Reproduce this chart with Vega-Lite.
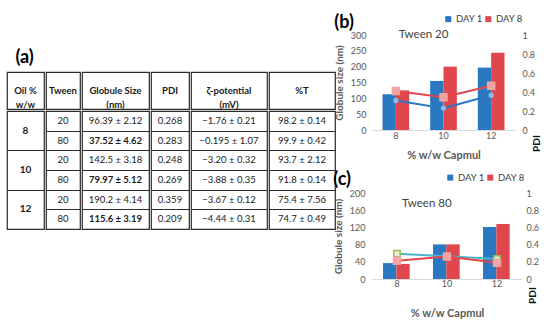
{
  "$schema": "https://vega.github.io/schema/vega-lite/v6.json",
  "padding": {"left": 6, "top": 14, "right": 2, "bottom": 2},
  "background": "white",
  "datasets": {
    "headers": [
      {"col": "oil", "h": "Oil %\nw/w"},
      {"col": "tween", "h": "Tween"},
      {"col": "size", "h": "Globule Size\n(nm)"},
      {"col": "pdi", "h": "PDI"},
      {"col": "zeta", "h": "ζ-potential\n(mV)"},
      {"col": "t", "h": "%T"}
    ],
    "table": [
      {"id": "8-20", "oil": "8", "tween": "20", "size": "96.39 ± 2.12", "pdi": "0.268", "zeta": "−1.76 ± 0.21", "t": "98.2 ± 0.14"},
      {"id": "8-80", "oil": "8", "tween": "80", "size": "37.52 ± 4.62", "pdi": "0.283", "zeta": "−0.195 ± 1.07", "t": "99.9 ± 0.42"},
      {"id": "10-20", "oil": "10", "tween": "20", "size": "142.5 ± 3.18", "pdi": "0.248", "zeta": "−3.20 ± 0.32", "t": "93.7 ± 2.12"},
      {"id": "10-80", "oil": "10", "tween": "80", "size": "79.97 ± 5.12", "pdi": "0.269", "zeta": "−3.88 ± 0.35", "t": "91.8 ± 0.14"},
      {"id": "12-20", "oil": "12", "tween": "20", "size": "190.2 ± 4.14", "pdi": "0.359", "zeta": "−3.67 ± 0.12", "t": "75.4 ± 7.56"},
      {"id": "12-80", "oil": "12", "tween": "80", "size": "115.6 ± 3.19", "pdi": "0.209", "zeta": "−4.44 ± 0.31", "t": "74.7 ± 0.49"}
    ],
    "chart": [
      {"tween": "Tween 20", "capmul": 8, "day": "DAY 1", "size": 113, "pdi": 0.31},
      {"tween": "Tween 20", "capmul": 8, "day": "DAY 8", "size": 125, "pdi": 0.41},
      {"tween": "Tween 20", "capmul": 10, "day": "DAY 1", "size": 155, "pdi": 0.23},
      {"tween": "Tween 20", "capmul": 10, "day": "DAY 8", "size": 200, "pdi": 0.345},
      {"tween": "Tween 20", "capmul": 12, "day": "DAY 1", "size": 197, "pdi": 0.365},
      {"tween": "Tween 20", "capmul": 12, "day": "DAY 8", "size": 244, "pdi": 0.465},
      {"tween": "Tween 80", "capmul": 8, "day": "DAY 1", "size": 37, "pdi": 0.295},
      {"tween": "Tween 80", "capmul": 8, "day": "DAY 8", "size": 35, "pdi": 0.213},
      {"tween": "Tween 80", "capmul": 10, "day": "DAY 1", "size": 80.5, "pdi": 0.264},
      {"tween": "Tween 80", "capmul": 10, "day": "DAY 8", "size": 80.5, "pdi": 0.262},
      {"tween": "Tween 80", "capmul": 12, "day": "DAY 1", "size": 121, "pdi": 0.233},
      {"tween": "Tween 80", "capmul": 12, "day": "DAY 8", "size": 128, "pdi": 0.19}
    ]
  },
  "spacing": -3,
  "hconcat": [
    {
      "spacing": 0,
      "vconcat": [
        {"width": 318, "height": 14, "data": {"values": []}, "mark": "text", "encoding": {}},
        {
          "title": {"text": "(a)", "anchor": "start", "fontSize": 18, "fontWeight": "bold", "color": "#000", "dx": 9, "offset": 4},
          "spacing": 0,
          "hconcat": [
            {"width": 37, "height": 37, "data": {"name": "headers"}, "transform": [{"filter": "datum.col == 'oil'"}], "view": {"stroke": "#2b2b2b", "strokeWidth": 1.2}, "mark": {"type": "text", "fontWeight": "bold", "lineBreak": "\n", "lineHeight": 14, "fontSize": 9.5, "color": "#1a1a1a"}, "encoding": {"text": {"field": "h"}}},
            {"width": 34, "height": 37, "data": {"name": "headers"}, "transform": [{"filter": "datum.col == 'tween'"}], "view": {"stroke": "#2b2b2b", "strokeWidth": 1.2}, "mark": {"type": "text", "fontWeight": "bold", "lineBreak": "\n", "lineHeight": 14, "fontSize": 9.5, "color": "#1a1a1a"}, "encoding": {"text": {"field": "h"}}},
            {"width": 67, "height": 37, "data": {"name": "headers"}, "transform": [{"filter": "datum.col == 'size'"}], "view": {"stroke": "#2b2b2b", "strokeWidth": 1.2}, "mark": {"type": "text", "fontWeight": "bold", "lineBreak": "\n", "lineHeight": 14, "fontSize": 9.5, "color": "#1a1a1a"}, "encoding": {"text": {"field": "h"}}},
            {"width": 38, "height": 37, "data": {"name": "headers"}, "transform": [{"filter": "datum.col == 'pdi'"}], "view": {"stroke": "#2b2b2b", "strokeWidth": 1.2}, "mark": {"type": "text", "fontWeight": "bold", "lineBreak": "\n", "lineHeight": 14, "fontSize": 9.5, "color": "#1a1a1a"}, "encoding": {"text": {"field": "h"}}},
            {"width": 76, "height": 37, "data": {"name": "headers"}, "transform": [{"filter": "datum.col == 'zeta'"}], "view": {"stroke": "#2b2b2b", "strokeWidth": 1.2}, "mark": {"type": "text", "fontWeight": "bold", "lineBreak": "\n", "lineHeight": 14, "fontSize": 9.5, "color": "#1a1a1a"}, "encoding": {"text": {"field": "h"}}},
            {"width": 66, "height": 37, "data": {"name": "headers"}, "transform": [{"filter": "datum.col == 't'"}], "view": {"stroke": "#2b2b2b", "strokeWidth": 1.2}, "mark": {"type": "text", "fontWeight": "bold", "lineBreak": "\n", "lineHeight": 14, "fontSize": 9.5, "color": "#1a1a1a"}, "encoding": {"text": {"field": "h"}}}
          ]
        },
        {
          "spacing": 0,
          "resolve": {"scale": {"y": "independent"}},
          "hconcat": [
            {"width": 37, "height": 118, "data": {"name": "table"}, "transform": [{"filter": "datum.tween == '20'"}], "view": {"stroke": "#2b2b2b", "strokeWidth": 1.2},
             "mark": {"type": "text", "fontWeight": "bold", "fontSize": 10, "color": "#1a1a1a"},
             "encoding": {
               "y": {"field": "oil", "type": "nominal", "scale": {"domain": ["8", "10", "12"], "paddingInner": 0, "paddingOuter": 0}, "axis": {"grid": true, "tickBand": "extent", "labels": false, "ticks": false, "domain": false, "title": null, "gridColor": "#2b2b2b", "gridWidth": 1.2, "gridOpacity": 1}},
               "text": {"field": "oil"}}},
            {"width": 34, "height": 118, "data": {"name": "table"}, "view": {"stroke": "#2b2b2b", "strokeWidth": 1.2},
             "mark": {"type": "text", "fontSize": 9.5, "color": "#1a1a1a"},
             "encoding": {
               "y": {"field": "id", "type": "nominal", "scale": {"domain": ["8-20", "8-80", "10-20", "10-80", "12-20", "12-80"], "paddingInner": 0, "paddingOuter": 0}, "axis": {"grid": true, "tickBand": "extent", "labels": false, "ticks": false, "domain": false, "title": null, "gridColor": "#2b2b2b", "gridWidth": 1, "gridOpacity": 1}},
               "text": {"field": "tween"}}},
            {"width": 67, "height": 118, "data": {"name": "table"}, "view": {"stroke": "#2b2b2b", "strokeWidth": 1.2},
             "encoding": {
               "y": {"field": "id", "type": "nominal", "scale": {"domain": ["8-20", "8-80", "10-20", "10-80", "12-20", "12-80"], "paddingInner": 0, "paddingOuter": 0}, "axis": {"grid": true, "tickBand": "extent", "labels": false, "ticks": false, "domain": false, "title": null, "gridColor": "#2b2b2b", "gridWidth": 1, "gridOpacity": 1}},
               "text": {"field": "size"}},
             "layer": [
               {"transform": [{"filter": "datum.tween == '20'"}], "mark": {"type": "text", "fontSize": 9.5, "color": "#1a1a1a"}},
               {"transform": [{"filter": "datum.tween == '80'"}], "mark": {"type": "text", "fontSize": 9.5, "fontWeight": "bold", "color": "#1a1a1a"}}
             ]},
            {"width": 38, "height": 118, "data": {"name": "table"}, "view": {"stroke": "#2b2b2b", "strokeWidth": 1.2},
             "mark": {"type": "text", "fontSize": 9.5, "color": "#1a1a1a"},
             "encoding": {
               "y": {"field": "id", "type": "nominal", "scale": {"domain": ["8-20", "8-80", "10-20", "10-80", "12-20", "12-80"], "paddingInner": 0, "paddingOuter": 0}, "axis": {"grid": true, "tickBand": "extent", "labels": false, "ticks": false, "domain": false, "title": null, "gridColor": "#2b2b2b", "gridWidth": 1, "gridOpacity": 1}},
               "text": {"field": "pdi"}}},
            {"width": 76, "height": 118, "data": {"name": "table"}, "view": {"stroke": "#2b2b2b", "strokeWidth": 1.2},
             "mark": {"type": "text", "fontSize": 9.5, "color": "#1a1a1a"},
             "encoding": {
               "y": {"field": "id", "type": "nominal", "scale": {"domain": ["8-20", "8-80", "10-20", "10-80", "12-20", "12-80"], "paddingInner": 0, "paddingOuter": 0}, "axis": {"grid": true, "tickBand": "extent", "labels": false, "ticks": false, "domain": false, "title": null, "gridColor": "#2b2b2b", "gridWidth": 1, "gridOpacity": 1}},
               "text": {"field": "zeta"}}},
            {"width": 66, "height": 118, "data": {"name": "table"}, "view": {"stroke": "#2b2b2b", "strokeWidth": 1.2},
             "mark": {"type": "text", "fontSize": 9.5, "color": "#1a1a1a"},
             "encoding": {
               "y": {"field": "id", "type": "nominal", "scale": {"domain": ["8-20", "8-80", "10-20", "10-80", "12-20", "12-80"], "paddingInner": 0, "paddingOuter": 0}, "axis": {"grid": true, "tickBand": "extent", "labels": false, "ticks": false, "domain": false, "title": null, "gridColor": "#2b2b2b", "gridWidth": 1, "gridOpacity": 1}},
               "text": {"field": "t"}}}
          ]
        }
      ]
    },
    {
      "spacing": 10,
      "resolve": {"scale": {"color": "independent", "stroke": "independent", "x": "independent", "y": "independent"}, "legend": {"color": "independent"}},
      "vconcat": [
        {
          "width": 143, "height": 95,
          "title": {"text": "(b)", "anchor": "start", "fontSize": 18, "fontWeight": "bold", "color": "#000", "offset": 0, "dy": 18},
          "data": {"name": "chart"},
          "transform": [{"filter": "datum.tween == 'Tween 20'"}],
          "encoding": {
            "x": {"field": "capmul", "type": "ordinal", "scale": {"paddingInner": 0.44, "paddingOuter": 0.22},
                  "axis": {"title": "% w/w Capmul", "labelAngle": 0, "ticks": false, "domainColor": "#d9d9d9", "labelColor": "#595959", "labelFontSize": 9, "labelPadding": 1, "titleColor": "#595959", "titleFontSize": 11, "titleFontWeight": "bold", "titlePadding": 9}}
          },
          "layer": [
            {
              "layer": [
                {"mark": {"type": "bar"},
                 "encoding": {
                   "xOffset": {"field": "day"},
                   "y": {"field": "size", "type": "quantitative", "scale": {"domain": [0, 300]},
                         "axis": {"title": "Globule size (nm)", "values": [0, 50, 100, 150, 200, 250, 300], "labelOverlap": false, "domain": false, "ticks": false, "labelColor": "#595959", "labelFontSize": 9, "labelPadding": 6, "titleColor": "#595959", "titleFontSize": 10, "titleFontWeight": "bold", "titlePadding": 6}},
                   "color": {"field": "day", "type": "nominal", "scale": {"range": ["#2b78c2", "#e0474c"]},
                             "legend": {"title": null, "orient": "none", "direction": "horizontal", "legendX": 71.5, "legendY": -21, "symbolType": "square", "symbolSize": 36, "labelFontSize": 9.5, "labelColor": "#404040", "columnPadding": -9, "labelOffset": 3}}}},
                {"data": {"values": [{"capmul": 8, "label": "Tween 20"}]},
                 "mark": {"type": "text", "align": "left", "baseline": "middle", "dx": 3, "fontSize": 11.5, "color": "#404040"},
                 "encoding": {"y": {"datum": 300, "type": "quantitative",
                         "axis": {"title": "Globule size (nm)", "values": [0, 50, 100, 150, 200, 250, 300], "labelOverlap": false, "domain": false, "ticks": false, "labelColor": "#595959", "labelFontSize": 9, "labelPadding": 6, "titleColor": "#595959", "titleFontSize": 10, "titleFontWeight": "bold", "titlePadding": 6}}, "text": {"field": "label"}}}
              ]
            },
            {
              "layer": [
                {"mark": {"type": "line", "strokeWidth": 2},
                 "encoding": {
                   "y": {"field": "pdi", "type": "quantitative", "scale": {"domain": [0, 1]},
                         "axis": {"orient": "right", "title": "PDI", "values": [0, 0.2, 0.4, 0.6, 0.8, 1], "labelOverlap": false, "format": "~g", "domain": false, "ticks": false, "labelColor": "#595959", "labelFontSize": 9, "labelPadding": 7, "titleAngle": 270, "titleX": 21, "titleY": 108, "titleAlign": "center", "titleBaseline": "middle", "titleColor": "#111", "titleFontSize": 10, "titleFontWeight": "bold"}},
                   "stroke": {"field": "day", "type": "nominal", "scale": {"range": ["#2b78c2", "#e0474c"]}, "legend": null}}},
                {"transform": [{"filter": "datum.day == 'DAY 1'"}],
                 "mark": {"type": "point", "shape": "circle", "filled": true, "size": 12, "fill": "#8fbde8", "stroke": "#8fbde8", "opacity": 1},
                 "encoding": {"y": {"field": "pdi", "type": "quantitative",
                         "axis": {"orient": "right", "title": "PDI", "values": [0, 0.2, 0.4, 0.6, 0.8, 1], "labelOverlap": false, "format": "~g", "domain": false, "ticks": false, "labelColor": "#595959", "labelFontSize": 9, "labelPadding": 7, "titleAngle": 270, "titleX": 21, "titleY": 108, "titleAlign": "center", "titleBaseline": "middle", "titleColor": "#111", "titleFontSize": 10, "titleFontWeight": "bold"}}}},
                {"transform": [{"filter": "datum.day == 'DAY 8'"}],
                 "mark": {"type": "point", "shape": "square", "filled": true, "size": 42, "fill": "#f4a3a3", "stroke": "#f4a3a3", "opacity": 1},
                 "encoding": {"y": {"field": "pdi", "type": "quantitative",
                         "axis": {"orient": "right", "title": "PDI", "values": [0, 0.2, 0.4, 0.6, 0.8, 1], "labelOverlap": false, "format": "~g", "domain": false, "ticks": false, "labelColor": "#595959", "labelFontSize": 9, "labelPadding": 7, "titleAngle": 270, "titleX": 21, "titleY": 108, "titleAlign": "center", "titleBaseline": "middle", "titleColor": "#111", "titleFontSize": 10, "titleFontWeight": "bold"}}}}
              ]
            }
          ],
          "resolve": {"scale": {"y": "independent"}}
        },
        {
          "width": 150, "height": 86,
          "title": {"text": "(c)", "anchor": "start", "fontSize": 18, "fontWeight": "bold", "color": "#000", "offset": 0, "dy": 16},
          "data": {"name": "chart"},
          "transform": [{"filter": "datum.tween == 'Tween 80'"}],
          "encoding": {
            "x": {"field": "capmul", "type": "ordinal", "scale": {"paddingInner": 0.44, "paddingOuter": 0.22},
                  "axis": {"title": "% w/w Capmul", "labelAngle": 0, "ticks": false, "domainColor": "#d9d9d9", "labelColor": "#595959", "labelFontSize": 9, "labelPadding": 0.5, "titleColor": "#595959", "titleFontSize": 11, "titleFontWeight": "bold", "titlePadding": 18.5}}
          },
          "layer": [
            {
              "layer": [
                {"mark": {"type": "bar"},
                 "encoding": {
                   "xOffset": {"field": "day"},
                   "y": {"field": "size", "type": "quantitative", "scale": {"domain": [0, 200]},
                         "axis": {"title": "Globule size (nm)", "values": [0, 40, 80, 120, 160, 200], "labelOverlap": false, "domain": false, "ticks": false, "labelColor": "#595959", "labelFontSize": 9, "labelPadding": 7, "titleColor": "#595959", "titleFontSize": 10, "titleFontWeight": "bold", "titlePadding": 6}},
                   "color": {"field": "day", "type": "nominal", "scale": {"range": ["#2b78c2", "#e0474c"]},
                             "legend": {"title": null, "orient": "none", "direction": "horizontal", "legendX": 73.5, "legendY": -20.5, "symbolType": "square", "symbolSize": 36, "labelFontSize": 9.5, "labelColor": "#404040", "columnPadding": -18, "labelOffset": 3}}}},
                {"data": {"values": [{"capmul": 8, "label": "Tween 80"}]},
                 "mark": {"type": "text", "align": "left", "baseline": "middle", "dx": 5, "fontSize": 11.5, "color": "#404040"},
                 "encoding": {"y": {"datum": 175, "type": "quantitative",
                         "axis": {"title": "Globule size (nm)", "values": [0, 40, 80, 120, 160, 200], "labelOverlap": false, "domain": false, "ticks": false, "labelColor": "#595959", "labelFontSize": 9, "labelPadding": 7, "titleColor": "#595959", "titleFontSize": 10, "titleFontWeight": "bold", "titlePadding": 6}}, "text": {"field": "label"}}}
              ]
            },
            {
              "layer": [
                {"mark": {"type": "line", "strokeWidth": 2},
                 "encoding": {
                   "y": {"field": "pdi", "type": "quantitative", "scale": {"domain": [0, 1]},
                         "axis": {"orient": "right", "title": "PDI", "values": [0, 0.2, 0.4, 0.6, 0.8, 1], "labelOverlap": false, "format": "~g", "domain": false, "ticks": false, "labelColor": "#595959", "labelFontSize": 9, "labelPadding": 4, "titleAngle": 270, "titleX": 10, "titleY": 102, "titleAlign": "center", "titleBaseline": "middle", "titleColor": "#111", "titleFontSize": 10, "titleFontWeight": "bold"}},
                   "stroke": {"field": "day", "type": "nominal", "scale": {"range": ["#4bb3cf", "#e0474c"]}, "legend": null}}},
                {"transform": [{"filter": "datum.day == 'DAY 1'"}],
                 "mark": {"type": "point", "shape": "square", "filled": true, "size": 40, "fill": "#e6efd6", "stroke": "#9bbb59", "strokeWidth": 1.5, "opacity": 1},
                 "encoding": {"y": {"field": "pdi", "type": "quantitative",
                         "axis": {"orient": "right", "title": "PDI", "values": [0, 0.2, 0.4, 0.6, 0.8, 1], "labelOverlap": false, "format": "~g", "domain": false, "ticks": false, "labelColor": "#595959", "labelFontSize": 9, "labelPadding": 4, "titleAngle": 270, "titleX": 10, "titleY": 102, "titleAlign": "center", "titleBaseline": "middle", "titleColor": "#111", "titleFontSize": 10, "titleFontWeight": "bold"}}}},
                {"transform": [{"filter": "datum.day == 'DAY 8'"}],
                 "mark": {"type": "point", "shape": "square", "filled": true, "size": 42, "fill": "#f4a3a3", "stroke": "#f4a3a3", "opacity": 1},
                 "encoding": {"y": {"field": "pdi", "type": "quantitative",
                         "axis": {"orient": "right", "title": "PDI", "values": [0, 0.2, 0.4, 0.6, 0.8, 1], "labelOverlap": false, "format": "~g", "domain": false, "ticks": false, "labelColor": "#595959", "labelFontSize": 9, "labelPadding": 4, "titleAngle": 270, "titleX": 10, "titleY": 102, "titleAlign": "center", "titleBaseline": "middle", "titleColor": "#111", "titleFontSize": 10, "titleFontWeight": "bold"}}}}
              ]
            }
          ],
          "resolve": {"scale": {"y": "independent"}}
        }
      ]
    }
  ],
  "config": {
    "font": "Lato",
    "view": {"stroke": null},
    "axis": {"grid": false, "labelOverlap": false, "labelFlush": false},
    "title": {"font": "Lato"}
  }
}
